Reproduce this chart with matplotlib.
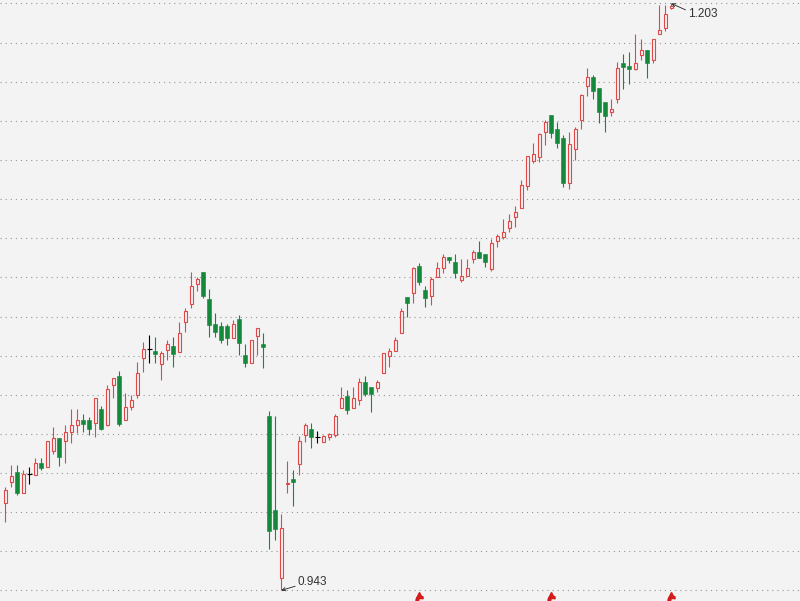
import matplotlib
matplotlib.use('Agg')
import matplotlib.pyplot as plt
from matplotlib.patches import Rectangle
import numpy as np

opens = [0.9816, 0.9912, 0.9955, 0.9863, 0.9946, 0.9943, 0.9993, 0.9975, 1.0049, 1.0105,
         1.0091, 1.0130, 1.0161, 1.0185, 1.0185, 1.0170, 1.0234, 1.0161, 1.0339, 1.0380,
         1.0184, 1.0241, 1.0296, 1.0461, 1.0498, 1.0491, 1.0432, 1.0495, 1.0513, 1.0487,
         1.0618, 1.0697, 1.0786, 1.0842, 1.0721, 1.0609, 1.0603, 1.0603, 1.0550, 1.0631,
         1.0473, 1.0439, 1.0558, 1.0522, 1.0203, 0.9786, 0.9486, 0.9901, 0.9924, 0.9990,
         1.0118, 1.0145, 1.0111, 1.0089, 1.0108, 1.0118, 1.0239, 1.0291, 1.0239, 1.0274,
         1.0352, 1.0330, 1.0328, 1.0392, 1.0470, 1.0492, 1.0569, 1.0728, 1.0746, 1.0867,
         1.0761, 1.0734, 1.0817, 1.0857, 1.0906, 1.0886, 1.0805, 1.0824, 1.0897, 1.0928,
         1.0920, 1.0854, 1.0978, 1.0997, 1.1037, 1.1086, 1.1125, 1.1223, 1.1334, 1.1351,
         1.1462, 1.1536, 1.1474, 1.1433, 1.1233, 1.1384, 1.1514, 1.1665, 1.1703, 1.1654,
         1.1595, 1.1551, 1.1606, 1.1768, 1.1753, 1.1740, 1.1802, 1.1824, 1.1780, 1.1894,
         1.1923, 1.2012]
highs = [0.9889, 0.9986, 0.9986, 0.9963, 0.9978, 1.0018, 1.0018, 1.0091, 1.0154, 1.0105,
         1.0163, 1.0232, 1.0234, 1.0210, 1.0197, 1.0281, 1.0247, 1.0339, 1.0370, 1.0403,
         1.0303, 1.0296, 1.0441, 1.0529, 1.0561, 1.0553, 1.0491, 1.0538, 1.0553, 1.0618,
         1.0682, 1.0842, 1.0818, 1.0842, 1.0765, 1.0658, 1.0618, 1.0609, 1.0628, 1.0650,
         1.0522, 1.0538, 1.0592, 1.0569, 1.0226, 1.0203, 0.9767, 1.0005, 0.9963, 1.0115,
         1.0173, 1.0170, 1.0138, 1.0118, 1.0126, 1.0212, 1.0330, 1.0318, 1.0330, 1.0372,
         1.0380, 1.0330, 1.0362, 1.0480, 1.0503, 1.0551, 1.0680, 1.0728, 1.0864, 1.0879,
         1.0779, 1.0817, 1.0886, 1.0919, 1.0906, 1.0919, 1.0897, 1.0898, 1.0938, 1.0978,
         1.0920, 1.0987, 1.1009, 1.1075, 1.1097, 1.1133, 1.1248, 1.1354, 1.1412, 1.1456,
         1.1514, 1.1536, 1.1503, 1.1447, 1.1462, 1.1484, 1.1629, 1.1743, 1.1713, 1.1654,
         1.1595, 1.1606, 1.1770, 1.1806, 1.1814, 1.1895, 1.1871, 1.1824, 1.1873, 1.2023,
         1.2023, 1.2030]
lows = [0.9732, 0.9887, 0.9854, 0.9860, 0.9901, 0.9943, 0.9963, 0.9975, 1.0034, 0.9982,
        0.9993, 1.0082, 1.0126, 1.0130, 1.0120, 1.0111, 1.0141, 1.0158, 1.0281, 1.0160,
        1.0184, 1.0229, 1.0282, 1.0399, 1.0439, 1.0437, 1.0362, 1.0451, 1.0421, 1.0487,
        1.0576, 1.0680, 1.0756, 1.0724, 1.0553, 1.0553, 1.0527, 1.0517, 1.0550, 1.0473,
        1.0421, 1.0439, 1.0473, 1.0417, 0.9613, 0.9653, 0.9430, 0.9863, 0.9805, 0.9941,
        1.0089, 1.0062, 1.0082, 1.0089, 1.0096, 1.0111, 1.0237, 1.0210, 1.0237, 1.0251,
        1.0293, 1.0222, 1.0310, 1.0392, 1.0421, 1.0492, 1.0569, 1.0640, 1.0705, 1.0783,
        1.0687, 1.0694, 1.0817, 1.0837, 1.0879, 1.0815, 1.0798, 1.0824, 1.0879, 1.0901,
        1.0864, 1.0846, 1.0953, 1.0985, 1.1018, 1.1038, 1.1125, 1.1204, 1.1323, 1.1326,
        1.1405, 1.1433, 1.1391, 1.1215, 1.1207, 1.1337, 1.1473, 1.1620, 1.1606, 1.1502,
        1.1462, 1.1533, 1.1591, 1.1651, 1.1672, 1.1735, 1.1780, 1.1701, 1.1765, 1.1894,
        1.1910, 1.2006]
closes = [0.9875, 0.9937, 0.9860, 0.9947, 0.9946, 0.9993, 0.9974, 1.0091, 1.0104, 1.0022,
          1.0130, 1.0161, 1.0185, 1.0169, 1.0144, 1.0281, 1.0146, 1.0321, 1.0370, 1.0166,
          1.0241, 1.0272, 1.0392, 1.0499, 1.0498, 1.0479, 1.0480, 1.0520, 1.0479, 1.0569,
          1.0668, 1.0779, 1.0810, 1.0736, 1.0606, 1.0576, 1.0538, 1.0550, 1.0609, 1.0527,
          1.0439, 1.0538, 1.0592, 1.0510, 0.9695, 0.9702, 0.9705, 0.9907, 0.9912, 1.0093,
          1.0163, 1.0111, 1.0111, 1.0114, 1.0122, 1.0203, 1.0281, 1.0229, 1.0281, 1.0352,
          1.0300, 1.0300, 1.0355, 1.0480, 1.0491, 1.0539, 1.0669, 1.0705, 1.0857, 1.0798,
          1.0727, 1.0808, 1.0857, 1.0906, 1.0894, 1.0837, 1.0824, 1.0857, 1.0928, 1.0904,
          1.0886, 1.0968, 1.1000, 1.1016, 1.1066, 1.1106, 1.1226, 1.1354, 1.1363, 1.1450,
          1.1504, 1.1455, 1.1413, 1.1233, 1.1408, 1.1473, 1.1625, 1.1703, 1.1644, 1.1551,
          1.1533, 1.1563, 1.1743, 1.1750, 1.1740, 1.1765, 1.1824, 1.1765, 1.1873, 1.1913,
          1.1983, 1.2019]

marker_idx = [69, 91, 111]
grid_min, grid_max, n_grid = 0.943, 1.203, 16
low_label, low_idx = "0.943", 46
high_label, high_idx = "1.203", 111

BG = '#f3f3f3'
RED = '#e04848'
GREEN = '#14893c'
PX = 0.72  # one pixel in points

fig = plt.figure(figsize=(8, 6.01), dpi=100)
fig.patch.set_facecolor(BG)
ax = fig.add_axes([0, 0, 1, 1])
ax.set_facecolor(BG)
ax.set_xlim(-0.883, 132.45)
ax.set_ylim(0.93831, 1.20455)
for s in ax.spines.values():
    s.set_visible(False)
ax.set_xticks([])
ax.set_yticks([])

for g in np.linspace(grid_min, grid_max, n_grid):
    ax.axhline(g, color='#959595', lw=0.8, linestyle=(0, (1, 3.6)), zorder=1)

w_up = 0.52
w_dn = 0.64
for i, (o, h, l, c) in enumerate(zip(opens, highs, lows, closes)):
    if c > o:
        ax.vlines(i, l, h, color=RED, lw=PX * 1.1, zorder=2)
        ax.add_patch(Rectangle((i - w_up / 2, o), w_up, c - o, facecolor=BG,
                               edgecolor=RED, lw=PX * 1.1, zorder=3))
    elif c < o:
        ax.vlines(i, l, h, color=GREEN, lw=PX * 1.1, zorder=2)
        ax.add_patch(Rectangle((i - w_dn / 2, c), w_dn, o - c, facecolor=GREEN,
                               edgecolor=GREEN, lw=PX * 0.6, zorder=3))
    else:
        ax.vlines(i, l, h, color='black', lw=PX * 1.1, zorder=2)
        ax.hlines(o, i - w_dn / 2 - 0.1, i + w_dn / 2 + 0.1, color='black', lw=PX * 1.1, zorder=3)

ax.annotate(low_label, xy=(low_idx, lows[low_idx]), xytext=(12.0, 5.8),
            textcoords='offset points', ha='left', va='center',
            fontsize=8.5, family='Liberation Sans', color='#333333',
            arrowprops=dict(arrowstyle='->', lw=0.6, color='#222222',
                            relpos=(0, 0.25), shrinkA=0, shrinkB=0,
                            mutation_scale=6))
ax.annotate(high_label, xy=(high_idx, highs[high_idx]), xytext=(12.2, -7.6),
            textcoords='offset points', ha='left', va='center',
            fontsize=8.5, family='Liberation Sans', color='#333333',
            arrowprops=dict(arrowstyle='->', lw=0.6, color='#222222',
                            relpos=(0, 0.75), shrinkA=0, shrinkB=0,
                            mutation_scale=6))

# small red event markers at the bottom edge (partly cut off, as in the reference)
for m in marker_idx:
    ax.plot(m, 0.9410, marker='^', color='#d41c1c', markersize=4, zorder=5,
            clip_on=True)
    ax.plot(m, 0.9386, marker=r'$\mathbf{c}$', color='#d41c1c', markersize=6,
            zorder=5, clip_on=True)

fig.savefig('out.png', dpi=100, facecolor=BG)
